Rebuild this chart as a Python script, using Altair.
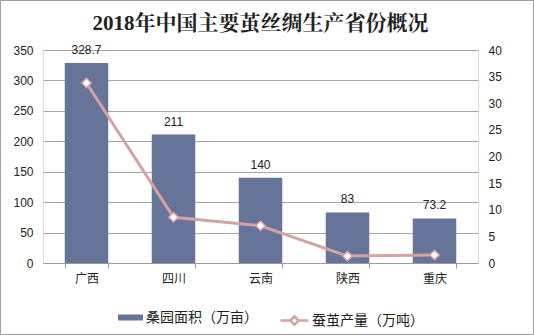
import altair as alt
import pandas as pd

categories = ["广西", "四川", "云南", "陕西", "重庆"]
area_values = [328.7, 211, 140, 83, 73.2]
output_values = [33.8, 8.6, 7.0, 1.3, 1.5]
area_name = "桑园面积（万亩）"
output_name = "蚕茧产量（万吨）"
left_ticks = [0, 50, 100, 150, 200, 250, 300, 350]
right_ticks = [0, 5, 10, 15, 20, 25, 30, 35, 40]

df = pd.DataFrame({"省份": categories, "面积": area_values, "产量": output_values,
                   "s1": [area_name] * len(categories), "s2": [output_name] * len(categories)})

BAR = "#67749a"
LINE = "#d5a3a3"
LAB = "Liberation Sans, Arial, sans-serif"
CJK = "Noto Sans CJK SC"

x = alt.X("省份:N", sort=categories,
          scale=alt.Scale(paddingInner=0.5, paddingOuter=0.25),
          axis=alt.Axis(title=None, labelAngle=0, tickBand="extent", domainColor="#9a9a9a",
                        tickColor="#9a9a9a", tickSize=5, labelPadding=5, labelFontSize=12,
                        labelFont=CJK, labelColor="#222"))

yl = alt.Y("面积:Q", scale=alt.Scale(domain=[0, 350], nice=False),
           axis=alt.Axis(title=None, values=left_ticks, tickCount=8, grid=True, gridColor="#a6a6a6",
                         domain=False, ticks=False, labelPadding=10, labelFontSize=12,
                         labelFont=LAB, labelColor="#222", labelOverlap=False))

yr = alt.Y("产量:Q", scale=alt.Scale(domain=[0, 40], nice=False),
           axis=alt.Axis(title=None, values=right_ticks, tickCount=9, grid=False, domain=False,
                         ticks=False, labelPadding=10, labelFontSize=12, labelFont=LAB,
                         labelColor="#222", orient="right", labelOverlap=False))

bars = alt.Chart(df).mark_bar().encode(
    x=x, y=yl,
    color=alt.Color("s1:N", scale=alt.Scale(domain=[area_name], range=[BAR]),
                    legend=alt.Legend(title=None, orient="none", legendX=75, legendY=255,
                                      symbolType="M-1,-0.24L1,-0.24L1,0.24L-1,0.24Z",
                                      symbolSize=625, symbolStrokeWidth=0, labelFontSize=14,
                                      labelFont=CJK, labelColor="#222", labelOffset=3)))

texts = alt.Chart(df).mark_text(dy=-13, fontSize=12, font=LAB, color="#222").encode(
    x=x, y=yl, text=alt.Text("面积:Q"))

line = alt.Chart(df).mark_line(strokeWidth=3).encode(
    x=x, y=yr,
    stroke=alt.Stroke("s2:N", scale=alt.Scale(domain=[output_name], range=[LINE]),
                      legend=alt.Legend(title=None, orient="none", legendX=236, legendY=255,
                                        symbolType="M-1,0L-0.3,0M0.3,0L1,0M-0.3,0L0,-0.3L0.3,0L0,0.3Z",
                                        symbolSize=784, symbolStrokeWidth=2.5,
                                        symbolFillColor="white", labelFontSize=14,
                                        labelFont=CJK, labelColor="#222", labelOffset=2)))

pts = alt.Chart(df).mark_point(shape="diamond", filled=True, fill="white", stroke=LINE,
                               strokeWidth=1.5, size=90, opacity=1).encode(
    x=x, y=yr)

frame = alt.Chart(pd.DataFrame({"f": [0]})).mark_rect(fill=None, stroke="#a0a0a0", strokeWidth=1).encode(
    x=alt.value(-42.5), x2=alt.value(490.5), y=alt.value(-49.5), y2=alt.value(284.5))

chart = alt.layer(
    alt.layer(bars, texts),
    alt.layer(line, pts),
    frame,
).resolve_scale(y="independent").properties(
    width=435, height=213,
    autosize=alt.AutoSizeParams(type="none"),
    padding={"left": 43, "top": 50, "right": 56, "bottom": 72},
    title=alt.Title("2018年中国主要茧丝绸生产省份概况", fontSize=21,
                    font="'Liberation Serif', 'Noto Serif CJK SC', 'Noto Sans CJK SC'",
                    fontWeight="bold", color="#222", anchor="middle", frame="group", offset=-34),
).configure_view(stroke=None).configure(background="white")

chart.save("out.html", embed_options={"renderer": "svg", "actions": False})
